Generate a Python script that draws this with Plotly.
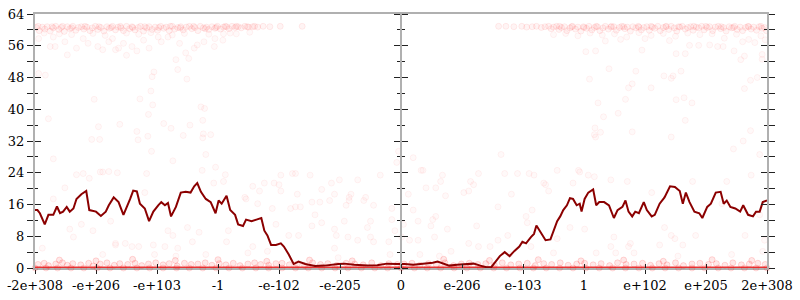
import plotly.graph_objects as go

# ---------------- data ----------------
tick_vals = [-6, -5, -4, -3, -2, -1, 0, 1, 2, 3, 4, 5, 6]
tick_text = ["-2e+308", "-e+206", "-e+103", "-1", "-e-102", "-e-205", "0",
             "e-206", "e-103", "1", "e+102", "e+205", "2e+308"]

# running average line
line_x = [-6.00, -5.96, -5.92, -5.84, -5.78, -5.70, -5.64, -5.59, -5.54, -5.48, -5.43, -5.37,
          -5.32, -5.24, -5.16, -5.11, -5.00, -4.92, -4.84, -4.79, -4.71, -4.63, -4.55, -4.49,
          -4.44, -4.39, -4.33, -4.28, -4.20, -4.13, -4.06, -3.98, -3.93, -3.87, -3.82, -3.77,
          -3.69, -3.61, -3.53, -3.45, -3.39, -3.34, -3.28, -3.20, -3.12, -3.04, -2.99, -2.94,
          -2.86, -2.80, -2.72, -2.67, -2.59, -2.54, -2.45, -2.37, -2.29, -2.24, -2.19, -2.13,
          -2.05, -1.97, -1.92, -1.84, -1.76, -1.68, -1.57, -1.41, -1.25, -1.03, -0.93, -0.77,
          -0.55, -0.39, -0.23, -0.07, 0.06, 0.20, 0.31, 0.41, 0.52, 0.60, 0.68, 0.79,
          0.92, 1.06, 1.19, 1.30, 1.40, 1.48, 1.54, 1.62, 1.70, 1.78, 1.86, 1.94,
          1.99, 2.05, 2.13, 2.18, 2.22, 2.29, 2.37, 2.45, 2.50, 2.56, 2.61, 2.66,
          2.72, 2.77, 2.82, 2.88, 2.93, 2.96, 3.01, 3.07, 3.15, 3.20, 3.25, 3.33,
          3.41, 3.49, 3.55, 3.63, 3.68, 3.73, 3.79, 3.84, 3.90, 3.98, 4.03, 4.11,
          4.16, 4.24, 4.32, 4.41, 4.49, 4.57, 4.62, 4.67, 4.73, 4.81, 4.89, 4.94,
          5.02, 5.08, 5.16, 5.24, 5.29, 5.34, 5.40, 5.48, 5.56, 5.61, 5.69, 5.77,
          5.82, 5.88, 5.93, 6.00]
line_y = [14.6, 14.6, 13.8, 11.0, 13.4, 13.4, 15.5, 13.8, 14.2, 15.4, 14.2, 15.0,
          17.4, 18.6, 19.4, 14.6, 14.2, 13.1, 14.2, 15.8, 17.8, 16.6, 13.4, 15.4,
          17.4, 19.5, 19.3, 16.2, 15.0, 11.8, 14.2, 15.8, 16.6, 15.8, 16.4, 13.0,
          15.4, 19.0, 19.2, 19.0, 20.6, 21.4, 19.2, 17.4, 16.6, 13.8, 17.0, 16.2,
          18.2, 14.6, 13.4, 11.0, 10.6, 12.2, 11.8, 12.2, 12.6, 9.4, 8.2, 5.8,
          5.8, 6.2, 5.4, 3.4, 1.0, 1.6, 1.0, 0.5, 0.6, 1.0, 1.1, 0.8,
          0.6, 0.7, 1.1, 1.0, 1.0, 0.8, 1.0, 1.0, 1.3, 1.6, 1.1, 0.6,
          0.8, 1.0, 1.1, 0.6, 0.2, 0.2, 1.4, 3.0, 4.0, 3.0, 4.3, 5.4,
          6.6, 6.2, 7.8, 8.6, 10.7, 9.0, 7.0, 7.2, 9.4, 11.8, 13.0, 14.6,
          15.8, 17.6, 17.4, 15.8, 16.2, 14.2, 17.4, 19.0, 19.8, 15.8, 16.6, 16.6,
          15.8, 12.6, 14.6, 15.4, 17.0, 14.2, 13.0, 14.2, 13.8, 16.6, 14.6, 13.0,
          13.4, 16.2, 17.8, 20.6, 20.4, 19.4, 16.2, 19.0, 16.6, 14.2, 13.8, 12.6,
          15.4, 16.2, 19.0, 19.2, 16.2, 17.0, 15.4, 15.0, 14.2, 15.8, 13.4, 13.0,
          14.2, 14.2, 16.6, 17.0]

# dense samples near the top (~60)
top_x = [-5.98, -5.93, -5.88, -5.84, -5.80, -5.75, -5.70, -5.66, -5.61, -5.57, -5.52, -5.47,
         -5.43, -5.38, -5.33, -5.29, -5.24, -5.20, -5.15, -5.10, -5.06, -5.01, -4.97, -4.92,
         -4.87, -4.82, -4.78, -4.73, -4.68, -4.64, -4.59, -4.55, -4.50, -4.45, -4.41, -4.36,
         -4.31, -4.27, -4.22, -4.17, -4.13, -4.08, -4.03, -3.99, -3.94, -3.89, -3.85, -3.80,
         -3.75, -3.71, -3.66, -3.61, -3.57, -3.52, -3.47, -3.43, -3.38, -3.33, -3.29, -3.24,
         -3.19, -3.15, -3.10, -3.05, -3.01, -2.96, -2.91, -2.86, -2.82, -2.77, -2.72, -2.67,
         -2.62, -2.56, -2.50, -2.43, -2.35, -2.26, -2.15, -1.98, -1.62,
         -5.95, -5.72, -5.55, -5.40, -5.18, -4.95, -4.75, -4.60, -4.40, -4.20, -3.97, -3.78,
         -3.62, -3.40, -3.21, -3.03, -2.88, -2.70, -2.52, -2.40,
         1.60, 1.72, 1.85, 1.98, 2.06, 2.15, 2.22, 2.30, 2.36, 2.42, 2.46, 2.50,
         2.55, 2.59, 2.63, 2.68, 2.72, 2.77, 2.81, 2.86, 2.90, 2.95, 2.99, 3.04,
         3.08, 3.13, 3.17, 3.22, 3.26, 3.31, 3.35, 3.40, 3.44, 3.49, 3.53, 3.58,
         3.62, 3.67, 3.71, 3.76, 3.80, 3.85, 3.89, 3.94, 3.98, 4.03, 4.07, 4.12,
         4.16, 4.21, 4.25, 4.30, 4.34, 4.39, 4.43, 4.48, 4.52, 4.57, 4.61, 4.66,
         4.70, 4.75, 4.79, 4.84, 4.88, 4.93, 4.97, 5.02, 5.06, 5.11, 5.15, 5.20,
         5.24, 5.29, 5.33, 5.38, 5.42, 5.47, 5.51, 5.56, 5.60, 5.65, 5.69, 5.74,
         5.78, 5.83, 5.87, 5.92, 5.96, 5.99,
         2.60, 2.80, 3.00, 3.20, 3.45, 3.65, 3.90, 4.10, 4.35, 4.55, 4.80, 5.00,
         5.25, 5.45, 5.70, 5.90]
top_y = [60.6, 59.8, 60.7, 60.2, 60.8, 59.7, 60.5, 60.9, 60.1, 60.6, 59.6, 60.8,
         60.3, 60.9, 59.9, 60.6, 60.8, 60.2, 60.7, 59.8, 60.5, 60.9, 60.1, 60.6,
         59.7, 60.8, 60.4, 60.9, 60.0, 60.7, 60.5, 59.8, 60.9, 60.3, 60.8, 60.0,
         60.6, 60.9, 59.7, 60.5, 60.8, 60.1, 60.7, 59.9, 60.9, 60.4, 60.7, 59.8,
         60.9, 60.2, 60.6, 60.8, 60.0, 60.7, 60.9, 60.3, 60.6, 59.8, 60.9, 60.5,
         60.7, 60.1, 60.8, 60.4, 60.9, 60.2, 60.7, 60.8, 60.3, 60.9, 60.6, 60.8,
         60.5, 60.9, 60.7, 60.8, 60.7, 60.9, 60.8, 60.9, 60.9,
         60.9, 60.8, 60.9, 60.5, 60.9, 60.8, 60.6, 60.9, 60.6, 60.8, 60.6, 60.9,
         60.5, 60.9, 60.3, 60.6, 60.9, 60.9, 60.8, 60.9,
         60.9, 60.9, 60.8, 60.9, 60.7, 60.8, 60.9, 60.6, 60.8, 60.9, 60.3, 60.7,
         60.9, 60.1, 60.6, 60.8, 59.8, 60.5, 60.9, 60.2, 60.7, 59.7, 60.8, 60.4,
         60.9, 60.0, 60.6, 60.8, 59.8, 60.5, 60.9, 60.2, 60.7, 60.8, 59.9, 60.6,
         60.9, 60.3, 60.7, 59.7, 60.8, 60.5, 60.9, 60.0, 60.6, 60.8, 59.9, 60.7,
         60.4, 60.9, 59.8, 60.6, 60.8, 60.1, 60.9, 60.5, 59.7, 60.7, 60.9, 60.2,
         60.6, 60.8, 59.9, 60.7, 60.5, 60.9, 60.0, 60.6, 60.8, 59.8, 60.7, 60.9,
         60.3, 60.6, 59.7, 60.8, 60.5, 60.9, 60.1, 60.7, 59.8, 60.6, 60.9, 60.2,
         60.7, 59.9, 60.8, 60.4, 60.6, 59.8,
         60.9, 60.8, 60.6, 60.9, 60.9, 60.8, 60.7, 60.9, 60.9, 60.8, 60.9, 60.9,
         60.8, 60.6, 60.8, 60.9]

# scattered samples away from the bands
mid_x = [-5.85, -5.60, -5.40, -5.05, -4.85, -4.50, -4.30, -4.10, -3.75, -3.55, -3.15, -2.80,
         -5.94, -5.75, -5.67, -5.70, -5.51, -5.32, -5.21, -5.13, -4.97, -4.89, -4.79, -4.73,
         -4.68, -4.63, -4.55, -4.41, -4.33, -4.22, -3.98, -3.93, -3.82, -3.63, -3.39, -3.34,
         -3.23, -3.06, -2.92, -3.05, -2.91, -2.70, -2.48,
         2.50, 2.70, 2.90, 3.10, 3.30, 3.50, 3.70, 3.90, 4.10, 4.30, 4.50, 4.70,
         4.90, 5.10, 5.30, 5.50, 5.70, 5.90, 5.97, 4.73, 4.88, 5.06, 5.19, 5.28,
         3.03, 3.19, 3.95, 5.46, 3.35, 3.60, 4.00, 4.40, 5.60, 5.80,
         -5.94, -5.83, -5.47, -5.03, -4.96, -5.07, -4.94, -5.78, -4.61, -4.33, -4.31, -4.28,
         -4.15, -4.14, -4.10, -4.07, -4.08, -4.05, -3.89, -3.77, -3.69, -3.66, -3.57, -3.51,
         -3.48, -3.53, -3.46, -3.28, -3.22, -3.25, -3.24, -3.25, -3.12, -4.50, -4.13,
         3.41, 3.09, 3.23, 3.32, 3.18, 3.17, 3.19, 3.27, 3.56, 3.68, 3.73, 3.79,
         3.79, 3.85, 4.10, 4.31, 4.43, 4.46, 4.59, 4.51, 4.66, 4.51, 4.64, 4.77,
         4.66, 4.43, 5.45, 5.61, 5.73, 5.63, 5.73, 5.84, 5.57, 5.63, 5.92, 5.92,
         -5.32, -5.11, -5.51, -5.70, -5.05, -5.88, -5.43, -5.37, -5.24, -4.89, -4.76, -4.68,
         -4.52, -4.41, -4.30, -4.20, -4.17, -3.87, -3.82, -3.74, -3.69, -3.66, -3.50, -3.42,
         -3.31, -3.26, -3.20, -3.07, -4.79, -4.93, -4.65, -4.06, -4.04,
         -5.70, -5.21, -4.89, -4.09, -4.68, -3.74, -3.04, -2.91, -3.20, -2.32, -2.54, -2.05,
         -2.00, -1.78, -1.49, -1.73, -1.68, -1.41, -1.09, -1.09, -0.82, -0.85, -0.55, -0.45,
         -0.20, -0.15, -1.30, -0.87, -1.09, -0.07, -0.04,
         -2.88, -2.24, -2.08, -1.97, -1.73, -2.43, -2.56, -2.35, -2.11, -1.97, -1.70, -1.81,
         -1.65, -1.46, -1.33, -1.17, -1.14, -1.01, -0.90, -0.85, -0.71, -0.58, -0.61, -0.34,
         -0.50, -0.93, -1.30, -1.46, -1.84, -1.06, -0.71, -0.50, -0.45, -0.15, -0.10, 0.01,
         -0.18, -1.03, -2.51, -2.43, -2.19, -2.83, -2.86,
         0.33, 0.68, 0.65, 0.57, 0.41, 1.27, 1.14, 1.19, 1.03, 1.11, 0.73, 0.12,
         0.20, 0.04, 0.28, 0.57, 0.52, 0.49, 0.76, 0.55, 0.14, 0.28, 0.31, 0.63,
         0.82, 1.11, 1.24, 1.27, 1.46, 1.70, 1.81, 1.91, 2.10, 2.18, 2.37, 2.05,
         2.07, 1.75, 1.59, 1.59, 2.34, 2.42, 2.15, 2.56, 2.91, 2.82, 2.77, 2.56,
         2.13, 1.78, 2.50,
         3.07, 3.44, 3.71, 3.01, 3.49, 3.76, 3.52, 3.73, 3.44, 3.82, 4.11, 4.32,
         4.24, 4.43, 4.49, 4.62, 4.54, 4.78, 4.83, 5.34, 5.74, 5.64, 5.42, 5.93,
         5.96, 3.20, 5.26, 5.88, 0.20, 0.36, 2.93, 5.88, 3.17, 1.64]
mid_y = [59.2, 59.0, 58.8, 59.1, 58.6, 59.2, 58.9, 59.3, 58.7, 59.1, 58.9, 59.2,
         57.8, 55.8, 55.8, 58.2, 57.0, 55.4, 57.8, 56.6, 55.8, 55.0, 57.0, 57.8,
         55.0, 55.4, 56.6, 55.8, 54.7, 57.4, 58.2, 57.0, 58.2, 56.6, 55.4, 56.2,
         57.0, 55.8, 57.4, 57.8, 59.0, 59.0, 59.4,
         58.8, 59.1, 58.5, 59.2, 58.7, 59.0, 58.2, 59.3, 58.6, 59.1, 58.4, 59.2,
         58.8, 59.0, 57.9, 58.9, 57.6, 58.5, 57.5, 56.1, 56.1, 56.2, 55.8, 55.8,
         54.5, 54.7, 54.9, 54.7, 57.2, 57.6, 57.8, 57.3, 57.0, 56.8,
         49.0, 48.6, 53.7, 42.5, 35.6, 32.4, 32.4, 37.6, 36.2, 34.4, 32.3, 42.6,
         33.2, 38.7, 44.6, 41.1, 48.2, 49.4, 36.4, 35.2, 52.5, 50.0, 33.4, 47.6,
         52.8, 54.2, 36.0, 40.6, 40.2, 37.2, 33.8, 32.8, 33.6, 53.6, 55.4,
         50.2, 47.6, 41.6, 38.1, 35.3, 33.6, 33.0, 34.2, 39.0, 42.5, 45.4, 46.4,
         34.3, 49.6, 45.4, 48.4, 47.8, 48.4, 49.6, 54.0, 54.0, 42.4, 42.9, 41.6,
         37.2, 33.0, 30.0, 32.0, 34.6, 45.2, 47.3, 48.0, 52.5, 53.4, 53.8, 52.6,
         23.5, 22.6, 20.2, 17.4, 9.4, 5.0, 9.8, 7.8, 11.0, 3.4, 11.8, 5.8,
         6.2, 5.4, 5.4, 19.0, 23.8, 5.4, 9.4, 8.2, 3.0, 5.0, 10.2, 6.6,
         9.0, 24.6, 3.4, 21.4, 24.3, 24.2, 24.0, 5.8, 3.4,
         27.5, 23.8, 24.2, 29.4, 6.2, 27.0, 25.4, 21.8, 28.6, 19.4, 17.4, 11.0,
         21.0, 23.8, 23.4, 15.4, 8.2, 13.4, 18.6, 9.8, 18.6, 17.0, 10.2, 15.8,
         6.6, 12.2, 19.8, 7.8, 5.0, 26.6, 29.4,
         23.5, 21.4, 21.4, 23.4, 23.8, 20.6, 17.8, 16.2, 15.0, 19.4, 18.6, 15.0,
         15.4, 16.6, 16.6, 17.0, 21.4, 22.2, 15.8, 17.8, 22.2, 17.8, 17.0, 23.4,
         11.8, 11.8, 11.4, 10.6, 8.2, 8.2, 7.0, 7.8, 6.6, 15.0, 9.4, 7.8,
         3.4, 2.6, 3.8, 5.4, 4.2, 9.4, 6.6,
         24.6, 23.4, 21.8, 20.2, 20.2, 23.8, 21.8, 21.0, 19.0, 19.4, 18.2, 18.6,
         14.6, 11.0, 11.8, 13.0, 12.2, 10.6, 9.8, 7.8, 7.0, 7.0, 3.4, 3.0,
         4.2, 6.2, 10.6, 5.4, 5.4, 23.8, 18.6, 23.8, 23.8, 23.4, 21.0, 13.0,
         11.4, 8.2, 15.4, 7.0, 21.4, 19.4, 14.6, 24.6, 24.6, 21.4, 10.2, 7.4,
         5.4, 3.4, 3.8,
         23.4, 22.2, 21.8, 9.8, 7.8, 6.2, 3.8, 5.4, 5.4, 3.8, 19.0, 10.2,
         5.8, 8.2, 7.4, 5.8, 3.0, 21.8, 8.2, 21.8, 23.4, 8.2, 3.4, 4.2,
         7.0, 3.8, 16.2, 13.4, 27.8, 24.6, 24.2, 28.6, 23.0, 28.6]

# samples just above zero
low_x = [-5.95, -5.85, -5.78, -5.66, -5.55, -5.47, -5.38, -5.25, -5.12, -5.05, -4.93, -4.82,
         -4.70, -4.61, -4.48, -4.36, -4.25, -4.14, -4.02, -3.90, -3.80, -3.67, -3.55, -3.44,
         -3.33, -3.21, -3.10, -2.98, -2.87, -2.75, -2.64, -2.51, -2.40, -2.30, -2.17, -2.05,
         -1.95, -1.83, -1.70, -1.58, -1.45, -1.32, -1.20, -1.05, -0.90, -0.76, -0.62, -0.48,
         -0.33, -0.20, -0.06, 0.05, 0.18, 0.31, 0.45, 0.58, 0.72, 0.86, 0.99, 1.12,
         1.26, 1.39, 1.53, 1.66, 1.80, 1.93, 2.07, 2.20, 2.34, 2.47, 2.61, 2.74,
         2.88, 3.01, 3.15, 3.28, 3.42, 3.55, 3.69, 3.82, 3.96, 4.09, 4.23, 4.36,
         4.50, 4.63, 4.77, 4.90, 5.04, 5.17, 5.31, 5.44, 5.58, 5.71, 5.85, 5.97,
         -5.60, -5.00, -4.40, -3.70, -3.00, -2.20, -1.50, -0.80, 0.70, 1.45, 2.25, 2.95,
         3.65, 4.30, 5.10, 5.75]
low_y = [0.9, 1.2, 0.6, 1.0, 1.3, 0.7, 1.1, 0.8, 1.2, 0.5, 1.0, 1.3,
         0.7, 1.1, 0.9, 1.2, 0.6, 1.0, 1.3, 0.8, 1.1, 0.5, 1.2, 0.9,
         1.0, 1.3, 0.7, 1.1, 0.8, 1.2, 0.6, 1.0, 1.3, 0.9, 0.7, 1.1,
         1.2, 0.8, 1.0, 0.6, 1.3, 0.9, 1.1, 0.7, 1.2, 1.0, 0.8, 1.3,
         0.6, 1.1, 0.9, 1.0, 1.2, 0.7, 1.1, 0.8, 1.3, 0.6, 1.0, 1.2,
         0.9, 1.1, 0.7, 1.3, 0.8, 1.0, 1.2, 0.6, 1.1, 0.9, 1.3, 0.7,
         1.0, 1.2, 0.8, 1.1, 0.6, 1.3, 0.9, 1.0, 1.2, 0.7, 1.1, 0.8,
         1.3, 0.6, 1.0, 1.2, 0.9, 1.1, 0.7, 1.3, 0.8, 1.0, 1.2, 0.9,
         2.0, 1.8, 2.2, 1.9, 2.1, 1.7, 2.0, 1.8, 2.2, 1.9, 2.1, 1.8,
         2.0, 1.7, 2.1, 1.9]

# samples exactly at zero
zero_x = [-6.00, -5.82, -5.63, -5.41, -5.20, -4.98, -4.77, -4.55, -4.33, -4.12, -3.90, -3.68,
          -3.47, -3.25, -3.03, -2.82, -2.60, -2.38, -2.17, -1.95, -1.73, -1.52, -1.30, -1.08,
          -0.87, -0.65, -0.43, -0.22, 0.00, 0.22, 0.43, 0.65, 0.87, 1.08, 1.30, 1.52,
          1.73, 1.95, 2.17, 2.38, 2.60, 2.82, 3.03, 3.25, 3.47, 3.68, 3.90, 4.12,
          4.33, 4.55, 4.77, 4.98, 5.20, 5.41, 5.63, 5.82, 6.00]
zero_y = [0.0] * len(zero_x)

# ---------------- figure ----------------
FONT = "DejaVu Serif"
AXIS_GRAY = "#b0b0b0"
TICK = "#222222"

pt_marker = dict(size=6, color="rgba(255,0,0,0.025)",
                 line=dict(color="rgba(255,0,0,0.05)", width=1))
top_marker = dict(size=6, color="rgba(255,0,0,0.045)",
                  line=dict(color="rgba(255,0,0,0.07)", width=1))

fig = go.Figure()
fig.add_trace(go.Scatter(x=mid_x, y=mid_y, mode="markers", marker=pt_marker,
                         hoverinfo="skip", showlegend=False))
fig.add_trace(go.Scatter(x=top_x, y=top_y, mode="markers", marker=top_marker,
                         hoverinfo="skip", showlegend=False))
fig.add_trace(go.Scatter(x=low_x, y=low_y, mode="markers",
                         marker=dict(size=6, color="rgba(255,0,0,0.09)",
                                     line=dict(color="rgba(255,0,0,0.14)", width=1)),
                         cliponaxis=False, hoverinfo="skip", showlegend=False))
fig.add_trace(go.Scatter(x=zero_x, y=zero_y, mode="lines+markers",
                         line=dict(color="rgb(232,52,52)", width=3),
                         marker=dict(size=6, color="rgba(255,0,0,0.08)",
                                     line=dict(color="rgba(255,0,0,0.12)", width=1)),
                         cliponaxis=False, hoverinfo="skip", showlegend=False))
fig.add_trace(go.Scatter(x=line_x, y=line_y, mode="lines",
                         line=dict(color="#8b0000", width=2),
                         hoverinfo="skip", showlegend=False))

# dummy traces so the overlay axes are rendered
for xa, ya in [("x2", "y"), ("x", "y2"), ("x", "y3"), ("x", "y4")]:
    fig.add_trace(go.Scatter(x=[None], y=[None], xaxis=xa, yaxis=ya,
                             mode="markers", hoverinfo="skip", showlegend=False))

xcommon = dict(range=[-6, 6], tickmode="array", tickvals=tick_vals, ticktext=tick_text,
               showgrid=False, zeroline=False, tickcolor=TICK, tickwidth=1, ticklen=4,
               fixedrange=True)
ycommon = dict(range=[0, 64], tickmode="linear", tick0=0, dtick=8, showgrid=False,
               zeroline=False, tickcolor=TICK, tickwidth=1, ticklen=6, fixedrange=True)

fig.update_layout(
    width=800, height=300,
    margin=dict(l=28, r=26, t=7, b=26, pad=0),
    paper_bgcolor="white", plot_bgcolor="white",
    font=dict(family=FONT, size=13, color="#000000"),
    xaxis=dict(**xcommon, ticks="outside", showline=True, linecolor=AXIS_GRAY,
               linewidth=2, mirror=True, layer="below traces", showticklabels=True,
               tickfont=dict(family=FONT, size=13, color="#000000")),
    xaxis2=dict(**xcommon, overlaying="x", anchor="y", side="bottom", ticks="inside",
                showline=False, showticklabels=False),
    yaxis=dict(**ycommon, ticks="outside", showline=True, linecolor=AXIS_GRAY,
               linewidth=2, mirror="allticks", showticklabels=True,
               minor=dict(dtick=4, tick0=0, ticks="outside", ticklen=3,
                          tickcolor=TICK, tickwidth=1),
               tickfont=dict(family=FONT, size=13, color="#000000")),
    yaxis2=dict(**ycommon, overlaying="y", anchor="x", side="left", ticks="inside",
                showline=True, linecolor=AXIS_GRAY, linewidth=2, mirror="allticks",
                showticklabels=False,
                minor=dict(dtick=4, tick0=0, ticks="inside", ticklen=3,
                           tickcolor=TICK, tickwidth=1)),
    yaxis3=dict(**ycommon, overlaying="y", anchor="free", position=0.5, side="left",
                ticks="outside", showline=True, linecolor=AXIS_GRAY, linewidth=2,
                showticklabels=False,
                minor=dict(dtick=4, tick0=0, ticks="outside", ticklen=3,
                           tickcolor=TICK, tickwidth=1)),
    yaxis4=dict(**ycommon, overlaying="y", anchor="free", position=0.5, side="right",
                ticks="outside", showline=False, showticklabels=False,
                minor=dict(dtick=4, tick0=0, ticks="outside", ticklen=3,
                           tickcolor=TICK, tickwidth=1)),
)

fig.write_html("out.html")
